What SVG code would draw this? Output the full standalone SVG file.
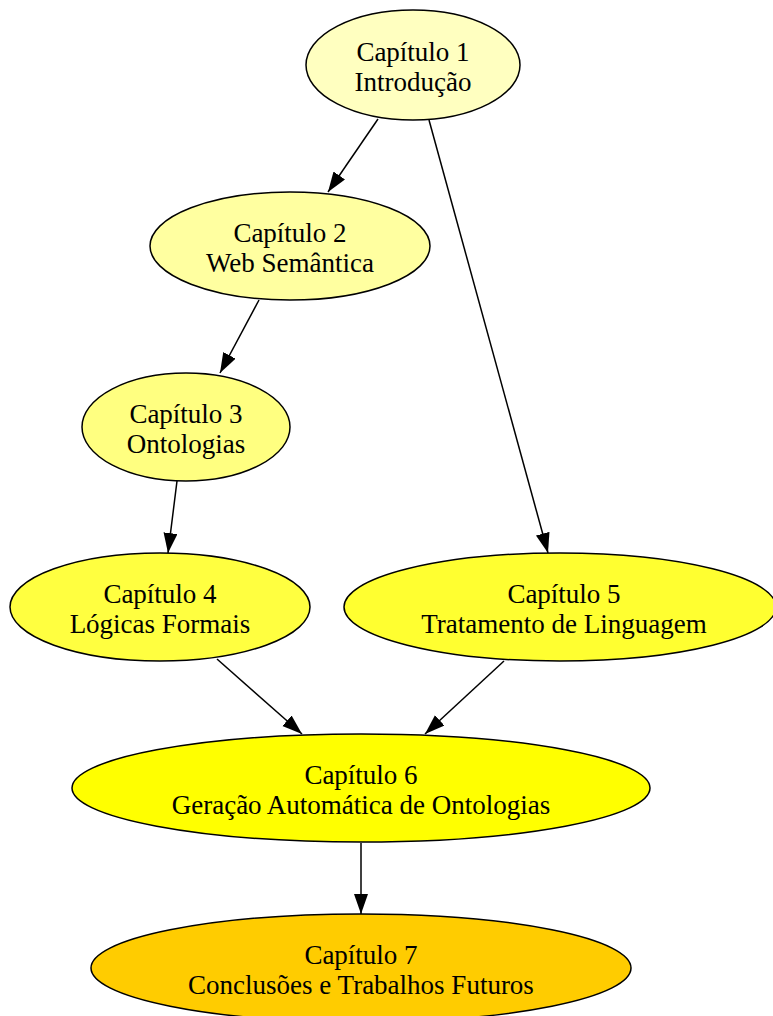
<svg xmlns="http://www.w3.org/2000/svg" width="773" height="1016" viewBox="0 0 773 1016">
  <style>
    .node ellipse { stroke: #000; stroke-width: 1.5; }
    .node text { font-family: "Liberation Serif", "Times New Roman", serif; font-size: 27px; fill: #000; text-anchor: middle; }
    .edge { stroke: #000; stroke-width: 1.5; fill: none; marker-end: url(#arrow); }
  </style>
  <defs>
    <marker id="arrow" markerUnits="userSpaceOnUse" markerWidth="22" markerHeight="16" refX="20" refY="7" orient="auto">
      <path d="M0,0 L20,7 L0,14 z" fill="#000"/>
    </marker>
  </defs>
  <rect width="773" height="1016" fill="#fff"/>

  <!-- connectors -->
  <g id="edges">
    <line class="edge" x1="378" y1="119" x2="328" y2="192"/>
    <line class="edge" x1="429" y1="120" x2="548" y2="553"/>
    <line class="edge" x1="259" y1="300" x2="220" y2="373"/>
    <line class="edge" x1="177" y1="481" x2="168" y2="553"/>
    <line class="edge" x1="217" y1="659" x2="302" y2="734"/>
    <line class="edge" x1="504" y1="661" x2="425" y2="734"/>
    <line class="edge" x1="361" y1="843" x2="361" y2="914"/>
  </g>

  <g id="cap1" class="node">
    <ellipse cx="413" cy="65" rx="107" ry="55" fill="#ffffc0"/>
    <text x="413" y="61">Capítulo 1</text>
    <text x="413" y="91">Introdução</text>
  </g>
  <g id="cap2" class="node">
    <ellipse cx="290" cy="246" rx="140" ry="54" fill="#ffffa0"/>
    <text x="290" y="242">Capítulo 2</text>
    <text x="290" y="272">Web Semântica</text>
  </g>
  <g id="cap3" class="node">
    <ellipse cx="186" cy="427" rx="104" ry="54" fill="#ffff80"/>
    <text x="186" y="423">Capítulo 3</text>
    <text x="186" y="453">Ontologias</text>
  </g>
  <g id="cap4" class="node">
    <ellipse cx="160" cy="607" rx="150" ry="54" fill="#ffff40"/>
    <text x="160" y="603">Capítulo 4</text>
    <text x="160" y="633">Lógicas Formais</text>
  </g>
  <g id="cap5" class="node">
    <ellipse cx="560" cy="607" rx="216" ry="54" fill="#ffff30"/>
    <text x="564" y="603">Capítulo 5</text>
    <text x="564" y="633">Tratamento de Linguagem</text>
  </g>
  <g id="cap6" class="node">
    <ellipse cx="361" cy="788" rx="289" ry="54" fill="#ffff00"/>
    <text x="361" y="784">Capítulo 6</text>
    <text x="361" y="814">Geração Automática de Ontologias</text>
  </g>
  <g id="cap7" class="node">
    <ellipse cx="361" cy="968" rx="270" ry="54" fill="#ffcc00"/>
    <text x="361" y="964">Capítulo 7</text>
    <text x="361" y="994">Conclusões e Trabalhos Futuros</text>
  </g>
</svg>
